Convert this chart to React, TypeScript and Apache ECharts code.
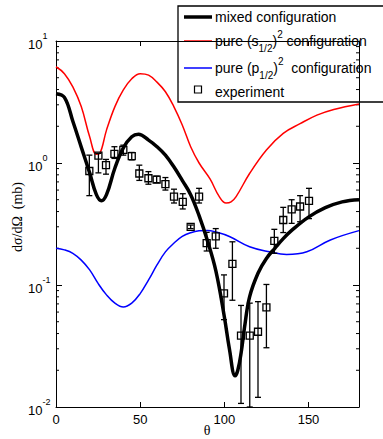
import React, { useEffect, useRef } from 'react';
import * as echarts from 'echarts';

// theoretical curves (theta in degrees, cross section in mb)
const mixedTheta = [0, 5, 10, 15, 20, 24, 27, 30, 35, 40, 45, 49, 55, 60, 65, 70, 75, 80, 85, 90, 95, 100, 103, 106.4, 108, 110, 112, 115, 120, 125, 130, 135, 140, 150, 160, 170, 180];
const mixedVals = [3.7, 3.45, 2.2, 1.35, 0.83, 0.55, 0.49, 0.55, 0.91, 1.33, 1.64, 1.72, 1.54, 1.36, 1.16, 0.93, 0.72, 0.55, 0.37, 0.23, 0.13, 0.055, 0.03, 0.018, 0.02, 0.028, 0.045, 0.08, 0.125, 0.165, 0.2, 0.24, 0.28, 0.36, 0.43, 0.48, 0.5];

const sTheta = [0, 5, 10, 15, 20, 24, 26, 30, 35, 40, 45, 50, 55, 60, 65, 70, 75, 80, 85, 91.5, 97, 101, 104, 107, 115, 125, 135, 145, 155, 165, 180];
const sVals = [6.15, 5.4, 4.2, 2.9, 1.64, 1.18, 1.2, 1.86, 2.9, 3.97, 4.9, 5.4, 5.25, 4.6, 3.84, 2.9, 2.05, 1.36, 1.0, 0.74, 0.53, 0.47, 0.48, 0.53, 0.82, 1.28, 1.75, 2.1, 2.47, 2.75, 3.05];

const pTheta = [0, 5, 10, 15, 20, 25, 30, 35, 40, 45, 50, 55, 60, 65, 70, 75, 80, 85, 90, 95, 103, 115, 127, 137, 149, 163, 180];
const pVals = [0.2, 0.194, 0.182, 0.16, 0.133, 0.103, 0.083, 0.071, 0.066, 0.071, 0.085, 0.11, 0.146, 0.187, 0.22, 0.25, 0.268, 0.278, 0.28, 0.272, 0.25, 0.206, 0.187, 0.178, 0.187, 0.234, 0.279];

// experiment
const expTheta = [19.8, 25.2, 29.7, 34.7, 40, 45, 49.5, 54.9, 59.8, 65, 70.1, 75.3, 80, 85, 89.5, 94.9, 99.8, 104.8, 109.9, 115.1, 120, 125, 129.7, 135, 140, 145, 150.3];
const expVals = [0.86, 1.15, 0.96, 1.19, 1.28, 1.14, 0.82, 0.75, 0.73, 0.67, 0.53, 0.48, 0.3, 0.53, 0.22, 0.25, 0.0855, 0.149, 0.0384, 0.0384, 0.0414, 0.0656, 0.23, 0.341, 0.417, 0.44, 0.49];
const expLow = [0.54, 0.83, 0.81, 1.09, 1.16, 1.06, 0.72, 0.67, 0.69, 0.6, 0.47, 0.42, 0.29, 0.47, 0.19, 0.2, 0.052, 0.075, 0.0107, 0.01, 0.012, 0.0306, 0.182, 0.269, 0.32, 0.33, 0.35];
const expHigh = [1.16, 1.2, 1.07, 1.36, 1.4, 1.22, 0.96, 0.85, 0.78, 0.76, 0.61, 0.56, 0.31, 0.62, 0.27, 0.29, 0.121, 0.226, 0.068, 0.071, 0.073, 0.101, 0.286, 0.433, 0.5, 0.54, 0.62];

const xTicks = [0, 50, 100, 150];
const yMinorTicks = [0.02, 0.03, 0.04, 0.05, 0.06, 0.07, 0.08, 0.09, 0.2, 0.3, 0.4, 0.5, 0.6, 0.7, 0.8, 0.9, 2, 3, 4, 5, 6, 7, 8, 9];

const SANS = 'Liberation Sans, Arial, sans-serif';
const SERIF = 'Liberation Serif, Times New Roman, serif';

export default function App() {
  const ref = useRef<HTMLDivElement>(null);
  useEffect(() => {
    const chart = echarts.init(ref.current!, null, { renderer: 'svg' });
    const zip = (xs: number[], ys: number[]) => xs.map((x, i) => [x, ys[i]]);

    const axisCommon = {
      axisLine: { show: true, onZero: false, lineStyle: { color: '#000', width: 1 } },
      splitLine: { show: false },
    };

    const richLegend = {
      t: { fontSize: 14, fontFamily: SANS, lineHeight: 24, verticalAlign: 'middle' },
      d: { fontSize: 10, fontFamily: SANS, lineHeight: 10, verticalAlign: 'bottom' },
      u: { fontSize: 10, fontFamily: SANS, lineHeight: 10, verticalAlign: 'top' },
    };

    const option: any = {
      animation: false,
      backgroundColor: '#fff',
      grid: { left: 56, right: 24, top: 41, bottom: 32, containLabel: false, outerBoundsMode: 'none' },
      xAxis: [
        {
          ...axisCommon,
          type: 'value', min: 0, max: 180, interval: 50, position: 'bottom',
          axisTick: { show: true, inside: true, length: 5, lineStyle: { color: '#000' } },
          axisLabel: {
            show: true, margin: 6, color: '#000', fontSize: 13, fontFamily: SANS, showMaxLabel: false,
            formatter: (v: number) => (xTicks.indexOf(v) >= 0 ? String(v) : ''),
          },
        },
        {
          ...axisCommon,
          type: 'value', min: 0, max: 180, interval: 50, position: 'top',
          axisTick: { show: true, inside: true, length: 5, lineStyle: { color: '#000' } },
          axisLabel: { show: false },
        },
      ],
      yAxis: [
        {
          ...axisCommon,
          type: 'log', logBase: 10, min: 0.01, max: 10, position: 'left',
          axisTick: { show: true, inside: true, length: 6, lineStyle: { color: '#000' } },
          axisLabel: {
            show: true, margin: 28, align: 'left', color: '#000', fontFamily: SANS,
            formatter: (v: number) => `{b|10}{s|${Math.round(Math.log10(v))}}`,
            rich: {
              b: { fontSize: 13, fontFamily: SANS, color: '#000', lineHeight: 20, verticalAlign: 'bottom' },
              s: { fontSize: 9, fontFamily: SANS, color: '#000', lineHeight: 10, verticalAlign: 'top' },
            },
          },
        },
        {
          ...axisCommon,
          type: 'log', logBase: 10, min: 0.01, max: 10, position: 'right',
          axisTick: { show: true, inside: true, length: 6, lineStyle: { color: '#000' } },
          axisLabel: { show: false },
        },
      ],
      series: [
        {
          type: 'custom', name: 'minor', silent: true, z: 1,
          data: yMinorTicks.map((v) => [0, v]),
          renderItem: (params: any, api: any) => {
            const v = api.value(1);
            const l = api.coord([0, v]);
            const r = api.coord([180, v]);
            return {
              type: 'group',
              children: [
                { type: 'line', shape: { x1: l[0], y1: l[1], x2: l[0] + 3, y2: l[1] }, style: { stroke: '#000', lineWidth: 1 } },
                { type: 'line', shape: { x1: r[0], y1: r[1], x2: r[0] - 3, y2: r[1] }, style: { stroke: '#000', lineWidth: 1 } },
              ],
            };
          },
        },
        {
          type: 'line', name: 'pure s', data: zip(sTheta, sVals), smooth: 0.4, showSymbol: false,
          lineStyle: { color: '#ff0000', width: 1.5 }, z: 2,
        },
        {
          type: 'line', name: 'pure p', data: zip(pTheta, pVals), smooth: 0.4, showSymbol: false,
          lineStyle: { color: '#0000ff', width: 1.5 }, z: 2,
        },
        {
          type: 'line', name: 'mixed', data: zip(mixedTheta, mixedVals), smooth: 0.4, showSymbol: false,
          lineStyle: { color: '#000', width: 3.5 }, z: 3,
        },
        {
          type: 'custom', name: 'experiment', z: 4, clip: true,
          data: expTheta.map((x, i) => [x, expVals[i], expLow[i], expHigh[i]]),
          renderItem: (params: any, api: any) => {
            const x = api.value(0);
            const c = api.coord([x, api.value(1)]);
            const lo = api.coord([x, api.value(2)]);
            const hi = api.coord([x, api.value(3)]);
            const st = { stroke: '#000', lineWidth: 1.3, fill: 'none' };
            const h = 3.5;
            return {
              type: 'group',
              children: [
                { type: 'line', shape: { x1: c[0], y1: lo[1], x2: c[0], y2: hi[1] }, style: st },
                { type: 'line', shape: { x1: c[0] - 3, y1: lo[1], x2: c[0] + 3, y2: lo[1] }, style: st },
                { type: 'line', shape: { x1: c[0] - 3, y1: hi[1], x2: c[0] + 3, y2: hi[1] }, style: st },
                { type: 'rect', shape: { x: c[0] - h, y: c[1] - h, width: 2 * h, height: 2 * h }, style: st },
              ],
            };
          },
        },
      ],
      graphic: [
        {
          type: 'text', x: 17, y: 217, rotation: Math.PI / 2,
          style: { text: 'dσ/dΩ  (mb)', fontSize: 14, fontFamily: SERIF, fill: '#000', align: 'center', verticalAlign: 'middle' },
        },
        {
          type: 'text', x: 207, y: 430,
          style: { text: 'θ', fontSize: 14, fontFamily: SERIF, fill: '#000', align: 'center', verticalAlign: 'middle' },
        },
        {
          type: 'group', z: 100,
          children: [
            { type: 'rect', shape: { x: 178, y: 6, width: 220, height: 96 }, style: { fill: '#fff', stroke: '#000', lineWidth: 1.3 } },
            { type: 'line', shape: { x1: 184, y1: 17, x2: 212, y2: 17 }, style: { stroke: '#000', lineWidth: 3.5 } },
            { type: 'line', shape: { x1: 184, y1: 41, x2: 212, y2: 41 }, style: { stroke: '#ff0000', lineWidth: 1.5 } },
            { type: 'line', shape: { x1: 184, y1: 68, x2: 212, y2: 68 }, style: { stroke: '#0000ff', lineWidth: 1.5 } },
            { type: 'rect', shape: { x: 194.5, y: 86, width: 7, height: 7 }, style: { fill: 'none', stroke: '#000', lineWidth: 1.2 } },
            {
              type: 'text', x: 215, y: 17,
              style: { text: 'mixed configuration', fontSize: 14, fontFamily: SANS, fill: '#000', verticalAlign: 'middle' },
            },
            {
              type: 'text', x: 215, y: 41,
              style: {
                text: '{t|pure (s}{d|1/2}{t|)}{u|2}{t| configuration}', fontFamily: SANS, fill: '#000', verticalAlign: 'middle',
                rich: richLegend,
              },
            },
            {
              type: 'text', x: 215, y: 68,
              style: {
                text: '{t|pure (p}{d|1/2}{t|)}{u|2}{t|  configuration}', fontFamily: SANS, fill: '#000', verticalAlign: 'middle',
                rich: richLegend,
              },
            },
            {
              type: 'text', x: 215, y: 92,
              style: { text: 'experiment', fontSize: 14, fontFamily: SANS, fill: '#000', verticalAlign: 'middle' },
            },
          ],
        },
      ],
    };
    chart.setOption(option);
    return () => chart.dispose();
  }, []);
  return <div ref={ref} style={{ position: 'fixed', left: 0, top: 0, width: 383, height: 439 }} />;
}
